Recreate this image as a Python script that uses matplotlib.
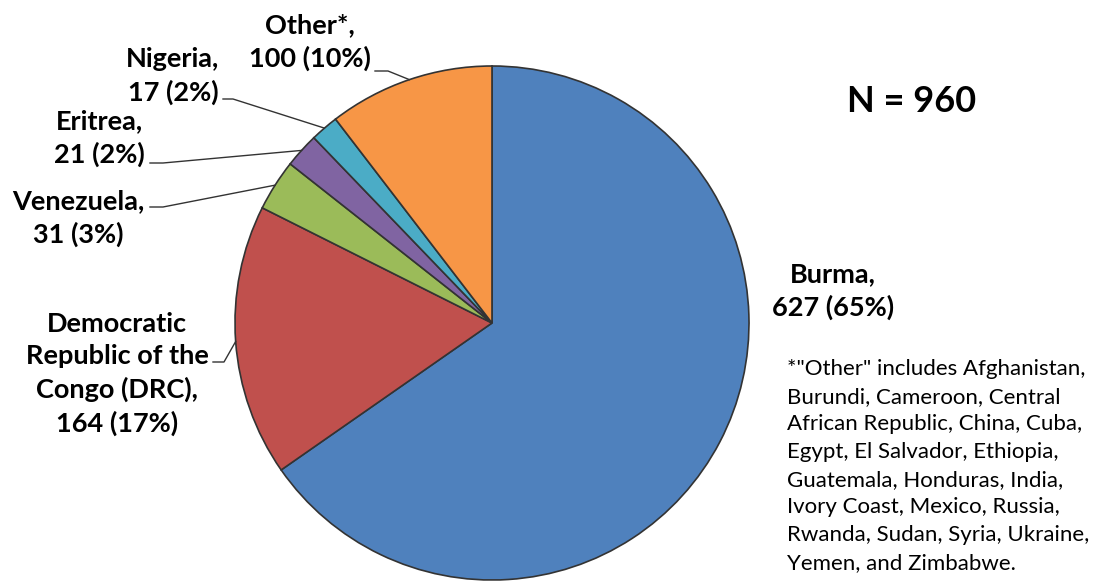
import numpy as np
import matplotlib.pyplot as plt

# refugee arrivals by country of origin
countries = ['Burma', 'Democratic\nRepublic of the\nCongo (DRC)', 'Venezuela',
             'Eritrea', 'Nigeria', 'Other*']
counts = [627, 164, 31, 21, 17, 100]
colors = ['#4F81BD', '#C0504D', '#9BBB59', '#8064A2', '#4BACC6', '#F79646']
total = sum(counts)

others = ('*"Other" includes Afghanistan,\nBurundi, Cameroon, Central\n'
          'African Republic, China, Cuba,\nEgypt, El Salvador, Ethiopia,\n'
          'Guatemala, Honduras, India,\nIvory Coast, Mexico, Russia,\n'
          'Rwanda, Sudan, Syria, Ukraine,\nYemen, and Zimbabwe.')

plt.rcParams['font.family'] = ['Lato', 'DejaVu Sans']

fig = plt.figure(figsize=(10.96, 5.88), dpi=100)
ax = fig.add_axes([0, 0, 1, 1])

cx, cy, r = 492, 265, 257
wedges, _ = ax.pie(counts, colors=colors, startangle=90, counterclock=False,
                   center=(cx, cy), radius=r,
                   wedgeprops=dict(edgecolor='#333333', linewidth=1.2))
ax.set_xlim(0, 1096)
ax.set_ylim(0, 588)
ax.set_aspect('equal')
ax.axis('off')

# label centres and leader line start / elbow (None = no leader)
label_pos = [(833, 297), (117, 214), (78, 370), (99, 450), (173, 512), (310, 546)]
leaders = [None, (213, 224, 226), (150, 163, 381), (150, 163, 425),
           (223, 233, 489), (375, 388, 517)]

for w, name, n, pos, ld in zip(wedges, countries, counts, label_pos, leaders):
    pct = round(n / total * 100)
    ax.text(pos[0], pos[1], f'{name},\n{n} ({pct}%)', ha='center', va='center',
            fontsize=19.5, fontweight='bold', linespacing=1.4)
    if ld is None:
        continue
    # leader ends on the rim at the middle of the slice
    mid = np.deg2rad((w.theta1 + w.theta2) / 2)
    ex, ey = cx + r * np.cos(mid), cy + r * np.sin(mid)
    x0, x1, y0 = ld
    ax.plot([x0, x1, ex], [y0, y0, ey], color='#333333', lw=1.0)

ax.text(912, 487, f'N = {total}', ha='center', va='center',
        fontsize=26, fontweight='bold')
ax.text(787, 229, others, ha='left', va='top', fontsize=16, linespacing=1.48)

fig.savefig('out.png', dpi=100)
